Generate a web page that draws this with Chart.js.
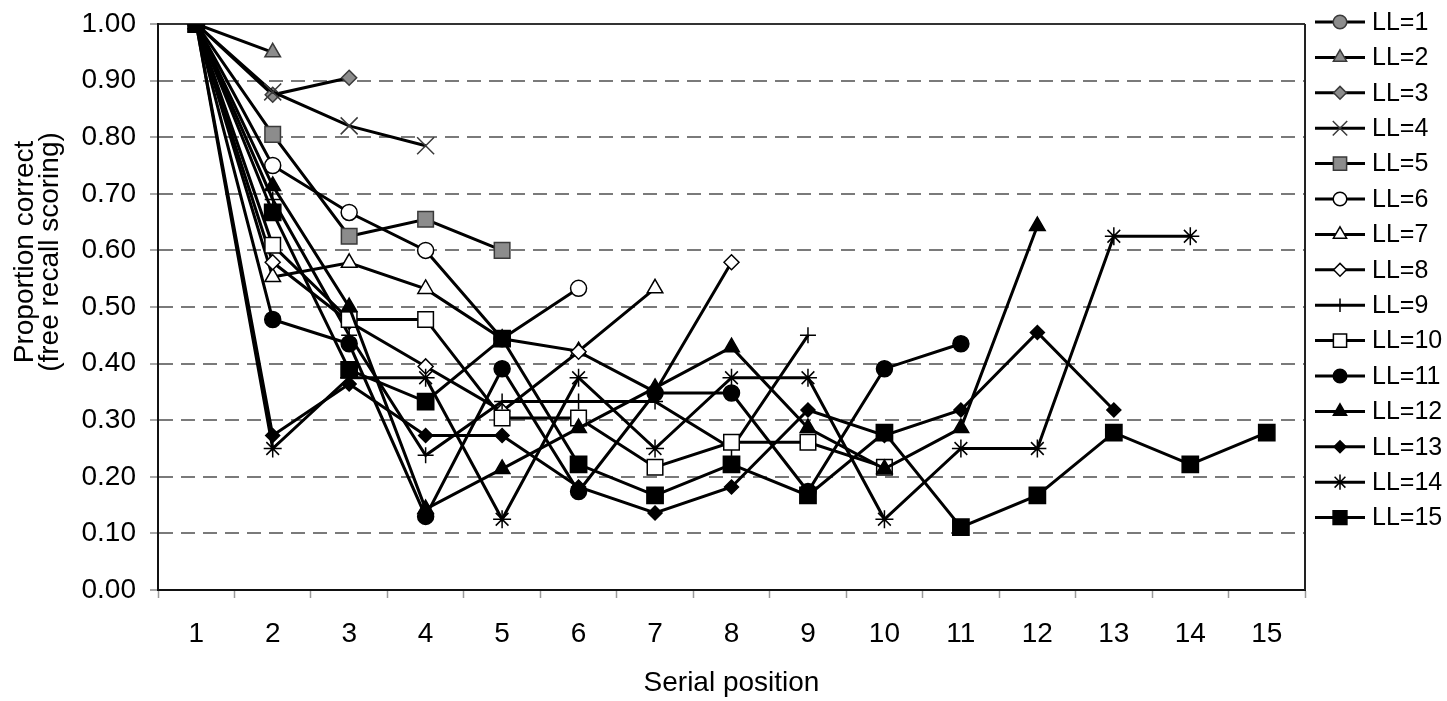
<!DOCTYPE html>
<html>
<head>
<meta charset="utf-8">
<title>Serial position curves by list length</title>
<script src="https://cdn.jsdelivr.net/npm/chart.js@4.4.1/dist/chart.umd.min.js"></script>
<style>
    html, body { margin: 0; padding: 0; background: #fff; }
    #wrap { width: 1447px; height: 701px; }
</style>
</head>
<body>
<div id="wrap"><canvas id="serialChart" width="1447" height="701"></canvas></div>
<script>
// Serial position curves - proportion correct per list length (LL)

const positions = ['1', '2', '3', '4', '5', '6', '7', '8', '9', '10', '11', '12', '13', '14', '15'];

const ll1 = [1.00];
const ll2 = [1.00, 0.95];
const ll3 = [1.00, 0.875, 0.905];
const ll4 = [1.00, 0.88, 0.82, 0.785];
const ll5 = [1.00, 0.805, 0.625, 0.655, 0.60];
const ll6 = [1.00, 0.75, 0.667, 0.60, 0.444, 0.533];
const ll7 = [1.00, 0.553, 0.578, 0.532, 0.444, 0.422, 0.533];
const ll8 = [1.00, 0.579, 0.474, 0.395, 0.316, 0.421, 0.35, 0.579];
const ll9 = [1.00, 0.69, 0.45, 0.238, 0.333, 0.333, 0.333, 0.25, 0.45];
const ll10 = [1.00, 0.609, 0.478, 0.478, 0.304, 0.304, 0.217, 0.261, 0.261, 0.217];
const ll11 = [1.00, 0.478, 0.435, 0.130, 0.391, 0.174, 0.348, 0.348, 0.174, 0.391, 0.435];
const ll12 = [1.00, 0.714, 0.500, 0.143, 0.214, 0.286, 0.357, 0.429, 0.286, 0.214, 0.286, 0.643];
const ll13 = [1.00, 0.273, 0.364, 0.273, 0.273, 0.182, 0.136, 0.182, 0.318, 0.273, 0.318, 0.455, 0.318];
const ll14 = [1.00, 0.25, 0.375, 0.375, 0.125, 0.375, 0.25, 0.375, 0.375, 0.125, 0.25, 0.25, 0.625, 0.625];
const ll15 = [1.00, 0.667, 0.389, 0.333, 0.444, 0.222, 0.167, 0.222, 0.167, 0.278, 0.111, 0.167, 0.278, 0.222, 0.278];

const seriesNames = ['LL=1', 'LL=2', 'LL=3', 'LL=4', 'LL=5', 'LL=6', 'LL=7', 'LL=8',
    'LL=9', 'LL=10', 'LL=11', 'LL=12', 'LL=13', 'LL=14', 'LL=15'];

const seriesValues = [ll1, ll2, ll3, ll4, ll5, ll6, ll7, ll8, ll9, ll10, ll11, ll12, ll13, ll14, ll15];

const FONT = "'Liberation Sans', Arial, sans-serif";
const GRAY = '#8c8c8c';
const DARK = '#3a3a3a';

// marker look for each series (Excel-like default markers)
const markers = [
    { shape: 'circle',   fill: GRAY,   stroke: DARK,   r: 8,    bw: 1.5 },
    { shape: 'triangle', fill: GRAY,   stroke: DARK,   r: 9,    bw: 1.5 },
    { shape: 'rectRot',  fill: GRAY,   stroke: DARK,   r: 7.5,  bw: 1.5 },
    { shape: 'crossRot', fill: DARK,   stroke: DARK,   r: 12,   bw: 1.5 },
    { shape: 'rect',     fill: GRAY,   stroke: DARK,   r: 11,   bw: 1.5 },
    { shape: 'circle',   fill: '#fff', stroke: '#000', r: 8,    bw: 1.5 },
    { shape: 'triangle', fill: '#fff', stroke: '#000', r: 9,    bw: 1.5 },
    { shape: 'rectRot',  fill: '#fff', stroke: '#000', r: 7.5,  bw: 1.5 },
    { shape: 'cross',    fill: '#000', stroke: '#000', r: 8,    bw: 1.5 },
    { shape: 'rect',     fill: '#fff', stroke: '#000', r: 11,   bw: 1.5 },
    { shape: 'circle',   fill: '#000', stroke: '#000', r: 8,    bw: 1.5 },
    { shape: 'triangle', fill: '#000', stroke: '#000', r: 9,    bw: 1.5 },
    { shape: 'rectRot',  fill: '#000', stroke: '#000', r: 7,    bw: 1.5 },
    { shape: 'star',     fill: '#000', stroke: '#000', r: 9,    bw: 1.5 },
    { shape: 'rect',     fill: '#000', stroke: '#000', r: 11.5, bw: 1.5 }
];

const datasets = seriesValues.map((vals, i) => ({
    label: seriesNames[i],
    data: vals,
    borderColor: '#000',
    borderWidth: 3,
    fill: false,
    tension: 0,
    pointStyle: markers[i].shape,
    pointRadius: markers[i].r,
    pointBackgroundColor: markers[i].fill,
    pointBorderColor: markers[i].stroke,
    pointBorderWidth: markers[i].bw,
    // later series painted on top, like the original
    order: seriesValues.length - i
}));

const isEdge = (v) => Math.abs(v) < 1e-6 || Math.abs(v - 1) < 1e-6;

// frame, rotated y title and line+marker legend
const extrasPlugin = {
    id: 'extras',
    afterDraw(chart) {
        const { ctx, chartArea } = chart;
        ctx.save();

        // right frame edge
        ctx.strokeStyle = '#222';
        ctx.lineWidth = 2;
        ctx.beginPath();
        ctx.moveTo(chartArea.right, chartArea.top);
        ctx.lineTo(chartArea.right, chartArea.bottom);
        ctx.stroke();

        // y axis title, two lines
        ctx.save();
        ctx.fillStyle = '#000';
        ctx.font = `28px ${FONT}`;
        ctx.textAlign = 'center';
        ctx.textBaseline = 'middle';
        ctx.translate(25, 252);
        ctx.rotate(-Math.PI / 2);
        ctx.fillText('Proportion correct', 0, 0);
        ctx.fillText('(free recall scoring)', 0, 25);
        ctx.restore();

        // legend
        const x0 = chartArea.right + 10;
        const drawPoint = Chart.helpers.drawPoint;
        chart.data.datasets.forEach((ds, i) => {
            const y = 22 + i * 35.4;
            ctx.strokeStyle = '#000';
            ctx.lineWidth = 3;
            ctx.beginPath();
            ctx.moveTo(x0, y);
            ctx.lineTo(x0 + 50, y);
            ctx.stroke();

            ctx.fillStyle = ds.pointBackgroundColor;
            ctx.strokeStyle = ds.pointBorderColor;
            ctx.lineWidth = ds.pointBorderWidth;
            drawPoint(ctx, {
                pointStyle: ds.pointStyle,
                rotation: 0,
                radius: ds.pointRadius * 0.85,
                borderWidth: ds.pointBorderWidth
            }, x0 + 25, y);

            ctx.fillStyle = '#000';
            ctx.font = `25px ${FONT}`;
            ctx.textAlign = 'left';
            ctx.textBaseline = 'middle';
            ctx.fillText(ds.label, x0 + 57, y + 1);
        });

        ctx.restore();
    }
};

new Chart(document.getElementById('serialChart'), {
    type: 'line',
    data: {
        labels: positions,
        datasets: datasets
    },
    options: {
        responsive: false,
        animation: false,
        events: [],
        layout: {
            padding: { left: 0, top: 24, right: 142, bottom: 0 }
        },
        plugins: {
            legend: { display: false },
            tooltip: { enabled: false }
        },
        scales: {
            x: {
                offset: true,
                afterFit(scale) { scale.height = 111; },
                grid: {
                    display: true,
                    offset: true,
                    drawOnChartArea: false,
                    drawTicks: true,
                    tickLength: 8,
                    tickColor: '#9a9a9a',
                    tickWidth: 1.5
                },
                border: { display: true, color: '#111', width: 2 },
                ticks: {
                    color: '#000',
                    padding: 19,
                    maxRotation: 0,
                    font: { family: FONT, size: 28 }
                },
                title: {
                    display: true,
                    text: 'Serial position',
                    color: '#000',
                    font: { family: FONT, size: 28 },
                    padding: { top: 0, bottom: 1 }
                }
            },
            y: {
                min: 0,
                max: 1,
                afterFit(scale) {
                    scale.width = 158;
                    scale.paddingTop = 0;
                    scale.paddingBottom = 0;
                },
                grid: {
                    color: (c) => (c.tick && isEdge(c.tick.value)) ? '#333' : '#7a7a7a',
                    lineWidth: 2,
                    drawTicks: true,
                    tickLength: 8,
                    tickColor: '#8a8a8a',
                    tickWidth: 1.5
                },
                border: {
                    display: true,
                    color: '#111',
                    width: 2,
                    dash: (c) => (c.tick && !isEdge(c.tick.value)) ? [14, 8] : []
                },
                ticks: {
                    stepSize: 0.1,
                    color: '#000',
                    padding: 14,
                    font: { family: FONT, size: 28 },
                    callback: (v) => Number(v).toFixed(2)
                }
            }
        }
    },
    plugins: [extrasPlugin]
});
</script>
</body>
</html>
